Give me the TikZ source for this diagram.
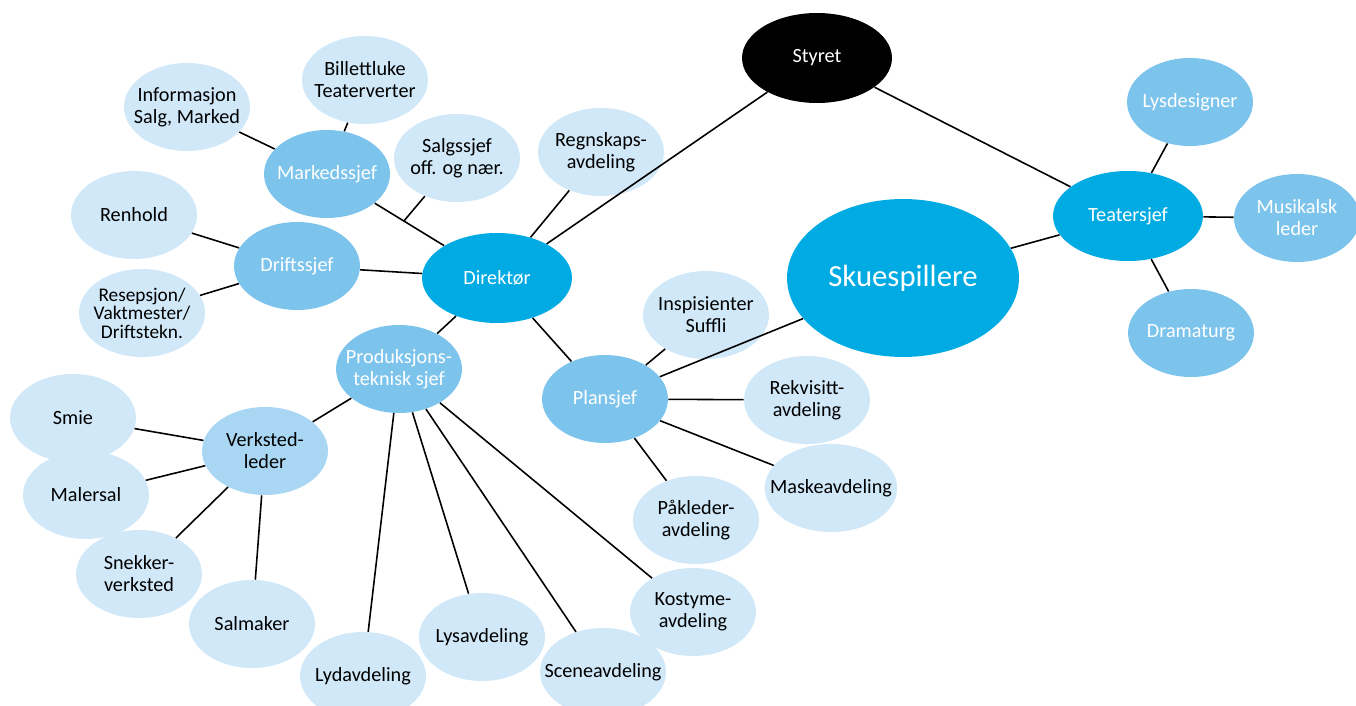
\documentclass[tikz,border=0pt]{standalone}
\usepackage{fontspec}
\setmainfont{Carlito}
\usetikzlibrary{shapes.geometric}
\definecolor{darkblue}{RGB}{0,170,226}
\definecolor{midblue}{RGB}{125,196,236}
\definecolor{verkblue}{RGB}{168,214,243}
\definecolor{lightblue}{RGB}{208,232,248}

\begin{document}
\begin{tikzpicture}[x=0.02cm,y=-0.02cm,
    main/.style = {ellipse, inner xsep=-8pt, inner ysep=0pt, align=center, minimum width=2.52cm, minimum height=1.76cm, font=\fontsize{11.5}{12.5}\selectfont},
    big/.style = {main, minimum width=3cm, minimum height=1.8cm},
    light/.style = {main, fill=lightblue, text=black},
    mid/.style = {main, fill=midblue, text=white}]
    \clip (0,0) rectangle (1356,706);
    \node[big, fill=black, text=white] (1) at (817,58) {Styret};
    \node[big, fill=darkblue, text=white] (2) at (497,278) {Direktør};
    \node[big, fill=darkblue, text=white] (3) at (1128,216) {Teatersjef};
    \node[main, fill=darkblue, text=white, minimum width=4.64cm, minimum height=3.16cm, font=\fontsize{17.5}{20}\selectfont] (4) at (903,278) {Skuespillere};
    \node[mid] (5) at (1190,102) {Lysdesigner};
    \node[mid] (6) at (1297,218) {Musikalsk\\leder};
    \node[mid] (7) at (1191,333) {Dramaturg};
    \node[mid] (8) at (327,174) {Markedssjef};
    \node[mid] (9) at (297,266) {Driftssjef};
    \node[mid] (10) at (399,369) {Produksjons-\\teknisk sjef};
    \node[mid] (11) at (605,399) {Plansjef};
    \node[main, fill=verkblue, text=black] (12) at (265,451) {Verksted-\\leder};
    \node[light] (13) at (187,107) {Informasjon\\Salg, Marked};
    \node[light] (14) at (365,80) {Billettluke\\Teaterverter};
    \node[light] (15) at (457,158) {Salgssjef\\off. og nær.};
    \node[light] (16) at (601,152) {Regnskaps-\\avdeling};
    \node[light] (17) at (134,215) {Renhold};
    \node[light, font=\fontsize{11}{10.5}\selectfont] (18) at (142,313) {Resepsjon/\\Vaktmester/\\Driftstekn.};
    \node[light] (19) at (73,418) {Smie};
    \node[light] (20) at (86,495) {Malersal};
    \node[light] (21) at (139,574) {Snekker-\\verksted};
    \node[light] (22) at (252,624) {Salmaker};
    \node[light] (23) at (363,676) {Lydavdeling};
    \node[light] (24) at (482,637) {Lysavdeling};
    \node[light] (25) at (603,672) {Sceneavdeling};
    \node[light] (26) at (693,612) {Kostyme-\\avdeling};
    \node[light] (27) at (706,315) {Inspisienter\\Suffli};
    \node[light] (28) at (807,400) {Rekvisitt-\\avdeling};
    \node[light] (29) at (831,488) {Maskeavdeling};
    \node[light] (30) at (696,520) {Påkleder-\\avdeling};
    \path[line width=0.9pt]
        (1) edge (2)
        (1) edge (3)
        (3) edge (4)
        (3) edge (5)
        (3) edge (6)
        (3) edge (7)
        (2) edge (16)
        (2) edge (9)
        (2) edge (10)
        (2) edge (11)
        (8) edge (13)
        (8) edge (14)
        (9) edge (17)
        (9) edge (18)
        (10) edge (12)
        (10) edge (23)
        (10) edge (24)
        (10) edge (25)
        (10) edge (26)
        (12) edge (19)
        (12) edge (20)
        (12) edge (21)
        (12) edge (22)
        (11) edge (4)
        (11) edge (27)
        (11) edge (28)
        (11) edge (29)
        (11) edge (30);
    \draw[line width=0.9pt] (8) -- coordinate[pos=0.42] (j) (2);
    \draw[line width=0.9pt] (15) -- (j);
\end{tikzpicture}
\end{document}
